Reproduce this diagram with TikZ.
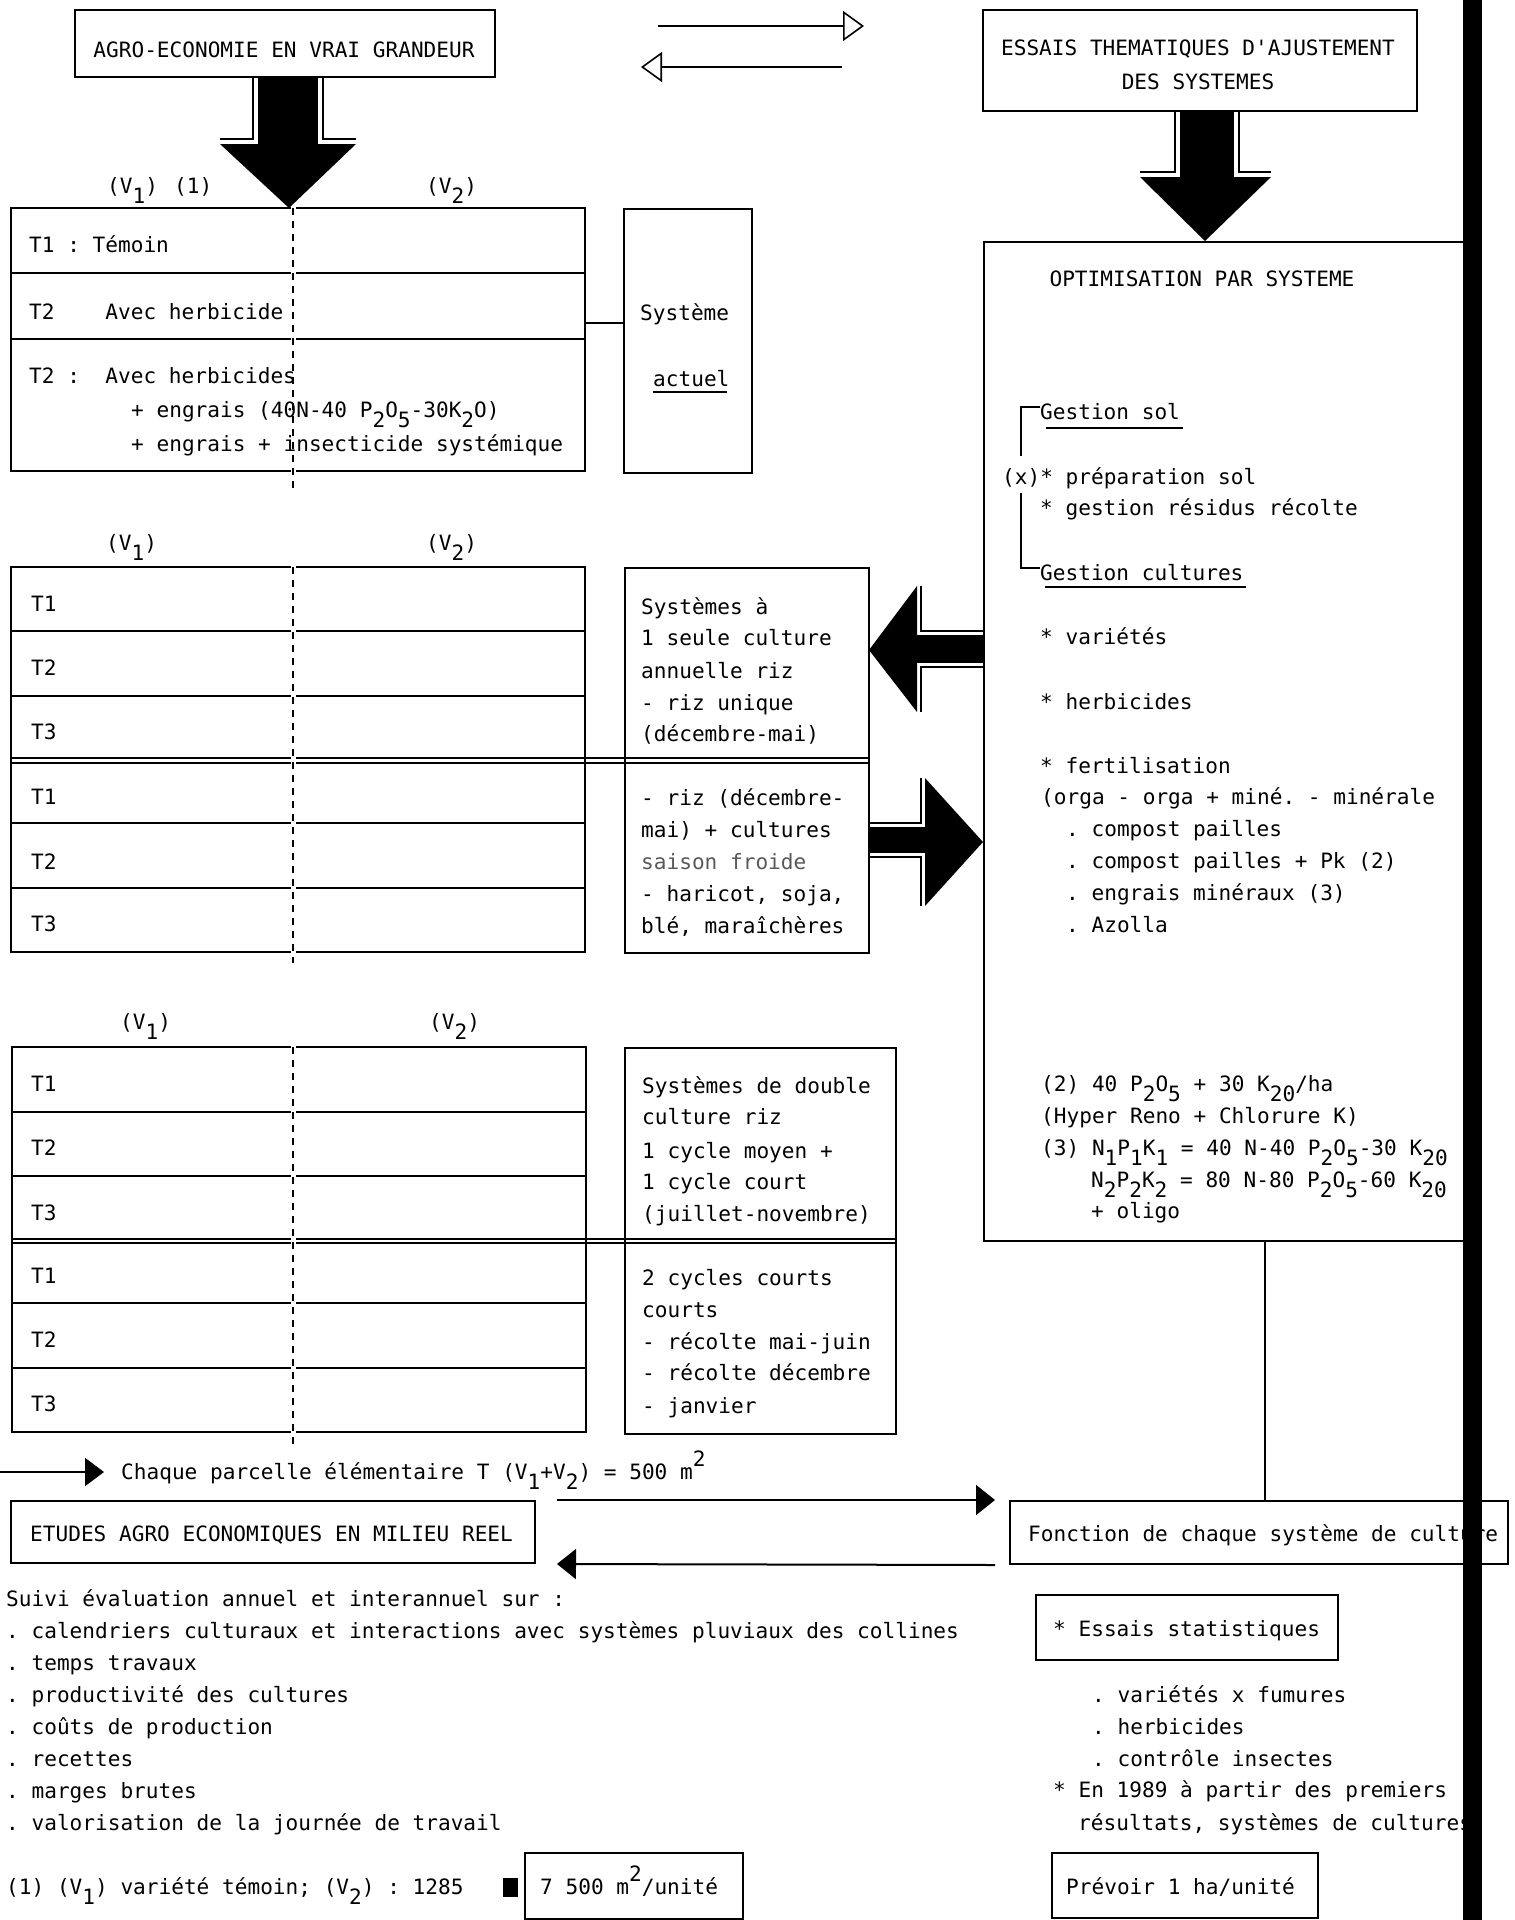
\documentclass[tikz,border=0pt]{standalone}
\usepackage{fontspec}
\setmonofont{DejaVu Sans Mono}
\usetikzlibrary{arrows.meta}
\newcommand\lowr[1]{\raisebox{-10pt}{#1}}
\newcommand\uppr[1]{\raisebox{13pt}{#1}}
\begin{document}
\begin{tikzpicture}[x=1pt,y=-1pt,
  ln/.style={line width=2pt,line cap=rect},
  thn/.style={line width=1.5pt},
  box/.style={draw,line width=2pt,inner sep=0pt,anchor=north west},
  frame/.style={inner sep=0pt,anchor=north west},
  txt/.style={font=\ttfamily\fontsize{21.1}{25}\selectfont,inner sep=0pt,anchor=base west},
  ctxt/.style={txt,anchor=base},
  dashln/.style={line width=1.3pt,dash pattern=on 7pt off 6pt},
  openarr/.style={line width=1.6pt,-{Triangle[open,length=21pt,width=30pt,line width=1.6pt]}},
  fillarr/.style={line width=2pt,-{Triangle[length=19pt,width=30pt]}}
]
\useasboundingbox (0,0) rectangle (1515,1920);
\fill[white] (0,0) rectangle (1515,1920);

% ---------- top boxes ----------
\node[box,minimum width=420pt,minimum height=67pt] (agro) at (74,9) {};
\node[ctxt] (agrot) at (284,57) {AGRO-ECONOMIE EN VRAI GRANDEUR};
\node[box,minimum width=434pt,minimum height=101pt] (essais) at (982,9) {};
\node[ctxt] (essaist1) at (1198,55) {ESSAIS THEMATIQUES D'AJUSTEMENT};
\node[ctxt] (essaist2) at (1198,89) {DES SYSTEMES};

% open arrows between them
\coordinate (oa1) at (658,26); \coordinate (oa2) at (864,26);
\draw[openarr] (oa1) -- (oa2);
\coordinate (ob1) at (842,67); \coordinate (ob2) at (641,67);
\draw[openarr] (ob1) -- (ob2);

% big arrow A (down from agro)
\draw[thn] (253,76) -- (253,139) -- (220,139);
\draw[thn] (323,76) -- (323,139) -- (356,139);
\fill (258,76) rectangle (318,145);
\fill (220,144) -- (356,144) -- (289,208) -- cycle;

% big arrow B (down from essais)
\draw[thn] (1175,110) -- (1175,172) -- (1140,172);
\draw[thn] (1239,110) -- (1239,172) -- (1271,172);
\fill (1180,110) rectangle (1234,178);
\fill (1140,177) -- (1271,177) -- (1205,241) -- cycle;

% ---------- table 1 ----------
\node[txt] (v11) at (107,193) {(V\lowr{1})};
\node[txt] (n1) at (174,193) {(1)};
\node[txt] (v12) at (426,193) {(V\lowr{2})};
\node[frame,minimum width=574pt,minimum height=263pt] (tab1) at (11,208) {};
\foreach \y in {208,273,339,471}{\draw[ln] (11,\y) -- (290,\y); \draw[ln] (297,\y) -- (585,\y);}
\draw[ln] (11,208) -- (11,471); \draw[ln] (585,208) -- (585,471);
\draw[dashln] (293,208) -- (293,494);
\node[txt] (t1a) at (29,252) {T1 : Témoin};
\node[txt] (t1b) at (29,319) {T2~~~~Avec herbicide};
\node[txt] (t1c) at (29,383) {T2 :~~Avec herbicides};
\node[txt] (t1d) at (131,417) {+ engrais (40N-40 P\lowr{2}O\lowr{5}-30K\lowr{2}O)};
\node[txt] (t1e) at (131,451) {+ engrais + insecticide systémique};

\node[box,minimum width=128pt,minimum height=264pt] (sys1) at (623,208) {};
\node[txt] (sys1a) at (640,320) {Système};
\node[txt] (sys1b) at (653,386) {actuel};
\draw[thn] (653,392) -- (727,392);
\coordinate (k1) at (0,323);
\draw[ln] (tab1.east |- k1) -- (sys1.west |- k1);

% ---------- table 2 ----------
\node[txt] (v21) at (106,550) {(V\lowr{1})};
\node[txt] (v22) at (426,550) {(V\lowr{2})};
\node[frame,minimum width=574pt,minimum height=385pt] (tab2) at (11,567) {};
\foreach \y in {567,631,696,823,888,952}{\draw[ln] (11,\y) -- (290,\y); \draw[ln] (297,\y) -- (585,\y);}
\foreach \y in {758,763}{\draw[ln] (11,\y) -- (290,\y); \draw[ln] (297,\y) -- (868,\y);}
\draw[ln] (11,567) -- (11,952); \draw[ln] (585,567) -- (585,952);
\draw[dashln] (293,567) -- (293,963);
\foreach \y/\t [count=\i] in {611/T1,675/T2,739/T3,804/T1,869/T2,931/T3}{\node[txt] (r2\i) at (31,\y) {\t};}
\node[box,minimum width=244pt,minimum height=385pt] (sys2) at (624,567) {};
\node[txt] (s2a) at (641,614) {Systèmes à};
\node[txt] (s2b) at (641,645) {1 seule culture};
\node[txt] (s2c) at (641,678) {annuelle riz};
\node[txt] (s2d) at (641,710) {- riz unique};
\node[txt] (s2e) at (641,741) {(décembre-mai)};
\node[txt] (s2f) at (641,805) {- riz (décembre-};
\node[txt] (s2g) at (641,837) {mai) + cultures};
\node[txt,text=black!65] (s2h) at (641,869) {saison froide};
\node[txt] (s2i) at (641,901) {- haricot, soja,};
\node[txt] (s2j) at (641,933) {blé, maraîchères};

% arrow C (left, from opt into sys2)
\draw[thn] (983,631) -- (921,631) -- (921,586);
\draw[thn] (983,667) -- (921,667) -- (921,712);
\fill (917,586) -- (917,712) -- (869,650) -- cycle;
\fill (916,635) rectangle (983,663);
% arrow D (right, from sys2 into opt)
\draw[thn] (869,823) -- (921,823) -- (921,778);
\draw[thn] (869,857) -- (921,857) -- (921,906);
\fill (925,778) -- (925,906) -- (983,842) -- cycle;
\fill (869,827) rectangle (926,853);

% ---------- table 3 ----------
\node[txt] (v31) at (120,1029) {(V\lowr{1})};
\node[txt] (v32) at (429,1029) {(V\lowr{2})};
\node[frame,minimum width=574pt,minimum height=385pt] (tab3) at (12,1047) {};
\foreach \y in {1047,1112,1176,1303,1368,1432}{\draw[ln] (12,\y) -- (290,\y); \draw[ln] (297,\y) -- (586,\y);}
\foreach \y in {1239,1243}{\draw[ln] (12,\y) -- (290,\y); \draw[ln] (297,\y) -- (895,\y);}
\draw[ln] (12,1047) -- (12,1432); \draw[ln] (586,1047) -- (586,1432);
\draw[dashln] (293,1047) -- (293,1445);
\foreach \y/\t [count=\i] in {1091/T1,1155/T2,1220/T3,1283/T1,1347/T2,1411/T3}{\node[txt] (r3\i) at (31,\y) {\t};}
\node[box,minimum width=271pt,minimum height=386pt] (sys3) at (624,1047) {};
\node[txt] (s3a) at (642,1093) {Systèmes de double};
\node[txt] (s3b) at (642,1124) {culture riz};
\node[txt] (s3c) at (642,1158) {1 cycle moyen +};
\node[txt] (s3d) at (642,1189) {1 cycle court};
\node[txt] (s3e) at (642,1221) {(juillet-novembre)};
\node[txt] (s3f) at (642,1285) {2 cycles courts};
\node[txt] (s3g) at (642,1317) {courts};
\node[txt] (s3h) at (642,1349) {- récolte mai-juin};
\node[txt] (s3i) at (642,1380) {- récolte décembre};
\node[txt] (s3j) at (642,1413) {- janvier};

% ---------- optimisation box ----------
\node[box,minimum width=480pt,minimum height=999pt] (opt) at (983,241) {};
\node[ctxt] (optt) at (1202,286) {OPTIMISATION PAR SYSTEME};
\node[txt] (o1) at (1040,419) {Gestion sol};
\draw[thn] (1046,428) -- (1183,428);
\node[txt] (o2) at (1002,484) {(x)* préparation sol};
\node[txt] (o3) at (1040,515) {* gestion résidus récolte};
\node[txt] (o4) at (1040,580) {Gestion cultures};
\draw[thn] (1045,587) -- (1246,587);
\draw[thn] (1040,407) -- (1021,407) -- (1021,456);
\draw[thn] (1021,493) -- (1021,568) -- (1040,568);
\node[txt] (o5) at (1040,644) {* variétés};
\node[txt] (o6) at (1040,709) {* herbicides};
\node[txt] (o7) at (1040,773) {* fertilisation};
\node[txt] (o8) at (1041,804) {(orga - orga + miné. - minérale};
\node[txt] (o9) at (1066,836) {. compost pailles};
\node[txt] (o10) at (1066,868) {. compost pailles + Pk (2)};
\node[txt] (o11) at (1066,900) {. engrais minéraux (3)};
\node[txt] (o12) at (1066,932) {. Azolla};
\node[txt] (o13) at (1041,1091) {(2) 40 P\lowr{2}O\lowr{5} + 30 K\lowr{20}/ha};
\node[txt] (o14) at (1041,1123) {(Hyper Reno + Chlorure K)};
\node[txt] (o15) at (1041,1155) {(3) N\lowr{1}P\lowr{1}K\lowr{1} = 40 N-40 P\lowr{2}O\lowr{5}-30 K\lowr{20}};
\node[txt] (o16) at (1091,1187) {N\lowr{2}P\lowr{2}K\lowr{2} = 80 N-80 P\lowr{2}O\lowr{5}-60 K\lowr{20}};
\node[txt] (o17) at (1091,1218) {+ oligo};

% ---------- bottom ----------
\coordinate (ch0) at (0,1472); \coordinate (ch1) at (104,1472);
\draw[line width=2pt,-{Triangle[length=19pt,width=28pt]}] (ch0) -- (ch1);
\node[txt] (chq) at (121,1479) {Chaque parcelle élémentaire T (V\lowr{1}+V\lowr{2}) = 500 m\uppr{2}};

\node[box,minimum width=524pt,minimum height=62pt] (etudes) at (10,1500) {};
\node[txt] (etudest) at (30,1541) {ETUDES AGRO ECONOMIQUES EN MILIEU REEL};
\node[box,minimum width=498pt,minimum height=63pt] (fonction) at (1009,1500) {};
\node[txt] (fonctiont) at (1028,1541) {Fonction de chaque système de culture};
\coordinate (k2) at (1265,0);
\draw[line width=1.6pt] (opt.south -| k2) -- (fonction.north -| k2);
\draw[fillarr] ([xshift=21pt]etudes.north east) -- ([xshift=-14pt]fonction.north west);
\draw[fillarr] ([xshift=-14pt]fonction.south west) -- ([xshift=21pt]etudes.south east);

\node[txt] (l0) at (6,1606) {Suivi évaluation annuel et interannuel sur :};
\node[txt] (l1) at (6,1638) {. calendriers culturaux et interactions avec systèmes pluviaux des collines};
\node[txt] (l2) at (6,1670) {. temps travaux};
\node[txt] (l3) at (6,1702) {. productivité des cultures};
\node[txt] (l4) at (6,1734) {. coûts de production};
\node[txt] (l5) at (6,1766) {. recettes};
\node[txt] (l6) at (6,1798) {. marges brutes};
\node[txt] (l7) at (6,1830) {. valorisation de la journée de travail};

\node[box,minimum width=302pt,minimum height=65pt] (essstat) at (1035,1594) {};
\node[txt] (essstatt) at (1053,1636) {* Essais statistiques};
\node[txt] (r1) at (1092,1702) {. variétés x fumures};
\node[txt] (r2) at (1092,1734) {. herbicides};
\node[txt] (r3) at (1092,1766) {. contrôle insectes};
\node[txt] (r4) at (1053,1797) {* En 1989 à partir des premiers};
\node[txt] (r5) at (1078,1830) {résultats, systèmes de cultures};

\node[txt] (foot) at (6,1894) {(1) (V\lowr{1}) variété témoin; (V\lowr{2}) : 1285};
\fill (503,1878) rectangle (518,1897);
\node[box,minimum width=218pt,minimum height=66pt] (unit) at (524,1852) {};
\node[txt] (unitt) at (540,1894) {7 500 m\uppr{2}/unité};
\node[box,minimum width=266pt,minimum height=65pt] (prev) at (1051,1852) {};
\node[txt] (prevt) at (1066,1894) {Prévoir 1 ha/unité};

% black vertical bar
\fill (1463,0) rectangle (1482,1920);
\end{tikzpicture}
\end{document}
